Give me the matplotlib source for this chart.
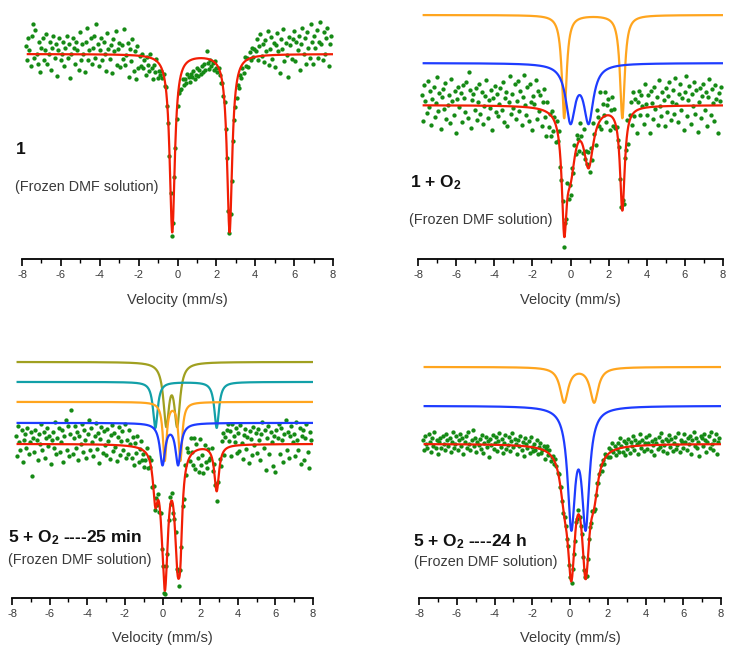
import numpy as np
import matplotlib
matplotlib.use("Agg")
import matplotlib.pyplot as plt
from matplotlib.ticker import MultipleLocator

plt.rcParams['font.family'] = ['Liberation Sans', 'DejaVu Sans']
plt.rcParams['axes.unicode_minus'] = False
plt.rcParams['mathtext.default'] = 'regular'

# ---------------- data (relative transmission, %) ----------------
velocity_span = (-7.8, 7.9)       # measured channel range (mm/s)
fit_span = (-7.7, 7.95)

# Panel 1: compound 1
p1_centers = [(-0.27, 2.68)]
p1_hwhm = [0.16]
p1_depth = [8.9]
p1_offsets = []
p1_colors = []
p1_resid = [4, -3, 8, 2, -6, 9, 15, -2, 12, 0, -5, 6, -9, 3, 8, -3,
            2, 10, -5, 0, 6, -8, 3, 9, -2, 5, -11, 2, 8, -3, 0, 6,
            -6, 3, 9, -2, 5, -12, 0, 8, 3, -5, 6, 2, -8, 11, -3, 5,
            0, -9, 6, 13, -3, 2, 8, -5, 3, 9, -2, 15, 5, -6, 2, 8,
            -3, 6, 0, -8, 11, 3, -2, 5, -9, 8, 2, 12, -5, 3, 6, -6,
            5, -2, 13, -5, 0, 6, -11, 3, -3, 8, -8, 2, -12, 5, -6, 0,
            -5, 1, -6, -2, -9, 0, -4, -7, 2, -5, -10, -3, -6, 1, -8, -4,
            -5, -2, -4, 0, -3, 1, -2, 0, -1, 2, -3, -1, 1, -4, -3, -5,
            -4, -6, -8, -5, -9, -7, -10, -6, -8, -11, -7, -9, -6, -10, -8, -5,
            -9, -6, -8, -4, -7, -3, -6, 4, -2, -5, 0, -3, -1, -4, 1, -2,
            -3, 0, -2, -4, -1, -3, 1, -2, 0, -5, -1, 2, -3, -2, -4, -6,
            -7, -4, -8, -3, -6, -2, -5, 2, -3, 1, -4, 3, -1, 5, 0, 4,
            3, 9, -2, 5, 11, 0, 6, -3, 8, 2, 12, -5, 3, 9, -2, 6,
            -6, 5, 11, 2, -9, 8, 3, 13, -3, 6, 0, -11, 9, 5, -2, 8,
            12, -3, 6, 2, 9, -8, 5, 13, 0, 8, -5, 11, 3, -2, 15, 6,
            -5, 9, 3, 12, -2, 6, 16, 5, -3, 11, 0, 8, 13, -6, 5, 9]

# Panel 2: 1 + O2
p2_centers = [(-0.33, 2.72), (0.0, 0.95)]
p2_hwhm = [0.15, 0.30]
p2_depth = [5.15, 2.8]
p2_offsets = [4.5, 2.1]
p2_colors = ['#FFA51E', '#1E3CFF']
p2_resid = [5, -8, 10, 2, -4, 12, -1, 7, -10, 3, 9, -6, 1, 14, -3, 6,
            -12, 4, 8, -2, 11, -7, 0, 5, -9, 13, 2, -5, 7, -14, 3, 9,
            -1, 6, -8, 10, 4, -3, 12, -6, 17, 8, -11, 3, 6, -2, 9, -7,
            2, 11, -4, 7, -9, 0, 5, 13, -6, 3, -1, 8, -12, 4, 10, -3,
            6, -5, 1, 9, -2, 12, -8, 4, 7, -10, 2, 15, -4, 6, -1, 11,
            -6, 3, 13, -2, 8, -9, 5, 16, 1, -4, 10, -7, 12, 3, -11, 6,
            2, 14, -5, 9, -1, 7, -8, 4, 11, -3, -12, 5, -7, 0, -10, 3,
            -6, 2, -9, 4, -3, 6, -5, -1, 3, -7, 5, -2, 8, -4, 1, -6,
            4, -3, 7, -1, 6, 2, -5, 9, 3, -4, 10, -2, 5, 1, 8, -3,
            6, -4, 11, 2, -6, 9, 4, -2, 14, -5, 7, 1, 12, -3, 5, 8,
            -7, 3, 10, -4, 6, -2, 1, -1, 2, -3, -4, 5, -6, 4, -2, 7,
            -9, 3, 8, -5, 11, -2, 6, -11, 4, 9, -3, 7, 1, -8, 12, 2,
            -4, 6, -13, 8, 2, -6, 10, -1, 5, -9, 13, 0, -5, 7, 3, -10,
            9, -3, 5, 12, -7, 2, 8, -4, 14, 1, -8, 6, 11, -2, 4, -12,
            7, 15, -5, 3, 10, -9, 6, 0, 12, -4, 8, -13, 2, 9, -6, 5,
            11, -2, 7, -10, 4, 13, -5, 8, 1, -8, 10, 3, -14, 6, 2, 9]

# Panel 3: 5 + O2, 25 min
p3_centers = [(0.2, 0.78), (-0.38, 2.88), (0.12, 0.95), (0.0, 0.83)]
p3_hwhm = [0.18, 0.15, 0.12, 0.17]
p3_depth = [3.0, 2.3, 2.9, 2.05]
p3_offsets = [4.1, 3.1, 2.1, 1.05]
p3_colors = ['#A0A020', '#12A0A8', '#FFA51E', '#1E3CFF']
p3_resid = [4, -6, 9, 1, -3, 7, -9, 2, 5, -2, 8, -5, 1, 6, -16, 3,
            -4, 7, 2, -8, 5, 0, 10, -3, 6, -7, 3, 8, -1, 4, -10, 2,
            6, -2, 11, -5, 3, 8, -4, 1, 7, -9, 4, 12, -3, 9, -6, 5,
            17, -5, 3, 9, -2, 6, -8, 4, 0, 10, -4, 7, 2, -7, 5, 12,
            -3, 8, 1, -6, 4, 11, -2, 6, -9, 3, 9, -4, 7, 0, -5, 8,
            2, -7, 5, 10, -3, 6, -1, -8, 4, 9, -5, 2, 7, -2, 11, -6,
            3, -4, 8, 1, -6, 5, -9, 2, -3, 6, -7, 0, 4, -5, -2, -8,
            -4, 3, -6, 1, -2, 4, -5, 2, -3, 5, -1, 3, -4, 2, -6, -3,
            -5, -2, 3, -4, 2, 6, -1, 4, -3, 1, 5, -2, 3, -4, 0, -3,
            2, -5, 6, -3, 8, 4, -2, 9, 1, -6, 7, -9, 3, -4, -11, 5,
            -8, -3, -12, 2, -6, -9, 1, -4, -2, 4, -5, 2, -3, 3, -6, -2,
            4, -3, 7, 10, -2, 6, 9, 12, 3, 8, -5, 11, 5, 2, 9, -4,
            6, -3, 10, 1, -7, 5, 8, -2, 4, -9, 7, 3, -5, 9, 0, 6,
            -4, 8, 2, -8, 5, 11, -2, 7, -13, 3, 9, -5, 6, 1, -11, 4,
            -14, 7, 3, 10, -5, 8, 2, -9, 5, 12, -3, 6, -7, 4, 9, 1,
            5, -6, 11, 2, -3, 8, -10, 4, 7, -8, 3, 10, -4, -12, 6, 2]

# Panel 4: 5 + O2, 24 h
p4_centers = [(-0.31, 1.28), (0.07, 0.83)]
p4_hwhm = [0.26, 0.235]
p4_depth = [1.75, 5.75]
p4_offsets = [3.85, 1.9]
p4_colors = ['#FFA51E', '#1E3CFF']
p4_resid = [2, -3, 4, 0, -2, 5, 1, -4, 3, -1, 6, -2, 2, -5, 1, 3,
            -2, 4, 0, -3, 5, 2, -1, 3, -4, 1, 6, -2, 0, 4, -3, 2,
            5, -1, 3, -5, 1, 4, -2, 6, 0, -3, 2, 7, -1, 3, -4, 1,
            0, 3, -2, 5, -4, 1, 4, -1, 2, -6, 3, 0, 5, -2, 1, 4,
            -3, 2, 6, -1, 3, -4, 1, 5, -2, 0, 4, -3, 2, 6, -1, 3,
            1, -4, 3, 0, 5, -2, 2, -5, 4, 1, -1, 3, -3, 5, 0, -2,
            2, -1, 4, -3, 1, 3, -2, 0, 2, -4, 1, 3, -1, 2, -3, 0,
            1, -2, 2, 0, -1, 1, -2, 2, 0, -1, 1, 0, -2, 1, -1, 0,
            -1, 1, 0, -2, 1, -1, 2, 0, -1, 1, -2, 0, 1, -1, 0, 2,
            1, -1, 2, 0, -2, 1, 3, -1, 0, 2, -3, 1, -2, 2, 0, -1,
            3, -2, 1, 4, -1, 2, -3, 0, 3, -2, 5, 1, -2, 3, -4, 2,
            -1, 4, -3, 2, 0, 5, -2, 3, 1, -4, 2, 6, -1, 3, -3, 1,
            4, -2, 1, 5, -3, 2, 0, -5, 3, 1, -2, 4, -1, 6, 2, -3,
            0, 3, -4, 2, 5, -1, 3, -3, 1, 4, -2, 0, 6, -4, 2, 1,
            -2, 5, 1, -3, 3, 0, 4, -5, 2, 6, -1, 3, -2, 1, -6, 4,
            3, -1, 5, 2, -4, 1, 4, -2, 6, 0, -3, 2, 5, -5, 1, 3]

p1_title = "1"
p2_title = "1 + O$_2$"
p3_title = "5 + O$_2$ ----25 min"
p4_title = "5 + O$_2$ ----24 h"
sample_note = "(Frozen DMF solution)"
xlabel_text = "Velocity (mm/s)"

# ---------------- drawing ----------------
W, H = 729, 648
fig = plt.figure(figsize=(W / 100, H / 100), dpi=100)

DOT = '#158A15'
FIT = '#F21E05'
TXT = '#3A3A3A'


def doublet(x, centers, hwhm, depth):
    return sum(depth / (1.0 + ((x - c) / hwhm) ** 2) for c in centers)


def total(x, centers, hwhm, depth):
    return sum(doublet(x, c, w, d) for c, w, d in zip(centers, hwhm, depth))


def panel(x0, x1, ytop, yaxis, ylim, centers, hwhm, depth, offsets, colors, resid):
    ax = fig.add_axes([x0 / W, 1 - yaxis / H, (x1 - x0) / W, (yaxis - ytop) / H])
    ax.patch.set_alpha(0)
    xs = np.linspace(*velocity_span, len(resid))
    xf = np.linspace(*fit_span, 1200)
    ydata = 100 - total(xs, centers, hwhm, depth) + np.asarray(resid) / 10.0
    ax.plot(xs, ydata, 'o', color=DOT, ms=3.1, mec='none', zorder=2)
    ax.plot(xf, 100 - total(xf, centers, hwhm, depth), color=FIT, lw=1.6, zorder=3)
    for c, w, d, off, col in zip(centers, hwhm, depth, offsets, colors):
        ax.plot(xf, 100 + off - doublet(xf, c, w, d), color=col, lw=1.6, zorder=4)
    ax.set_xlim(-8, 8)
    ax.set_ylim(*ylim)
    for s in ('top', 'left', 'right'):
        ax.spines[s].set_visible(False)
    ax.spines['bottom'].set_linewidth(1.3)
    ax.set_yticks([])
    ax.xaxis.set_major_locator(MultipleLocator(2))
    ax.xaxis.set_minor_locator(MultipleLocator(1))
    ax.tick_params(axis='x', which='major', direction='out', length=5, width=1.2,
                   labelsize=8, labelcolor=TXT, pad=3)
    ax.tick_params(axis='x', which='minor', direction='out', length=3, width=1.0)
    ax.set_xlabel(xlabel_text, fontsize=10.5, color=TXT, labelpad=9)
    return ax


panel(22, 333, 0, 259, (89.75, 102.7), p1_centers, p1_hwhm, p1_depth,
      p1_offsets, p1_colors, p1_resid)
panel(418, 723, 0, 259.3, (92.3, 105.25), p2_centers, p2_hwhm, p2_depth,
      p2_offsets, p2_colors, p2_resid)
panel(12, 313, 330, 597.7, (92.3, 105.7), p3_centers, p3_hwhm, p3_depth,
      p3_offsets, p3_colors, p3_resid)
panel(419, 721, 330, 597.7, (92.3, 105.7), p4_centers, p4_hwhm, p4_depth,
      p4_offsets, p4_colors, p4_resid)


def label(x, y, s, **kw):
    fig.text(x / W, 1 - y / H, s, ha='left', va='center', **kw)


for (tx, ty, t, nx, ny) in [(16, 150, p1_title, 15, 187),
                            (410, 183, p2_title, 409, 220),
                            (8, 538, p3_title, 8, 560),
                            (413, 542, p4_title, 414, 562)]:
    label(tx, ty, t, fontsize=12.5, fontweight='bold', color='#111111')
    label(nx, ny, sample_note, fontsize=10.4, color=TXT)

fig.savefig('out.png', dpi=100)
